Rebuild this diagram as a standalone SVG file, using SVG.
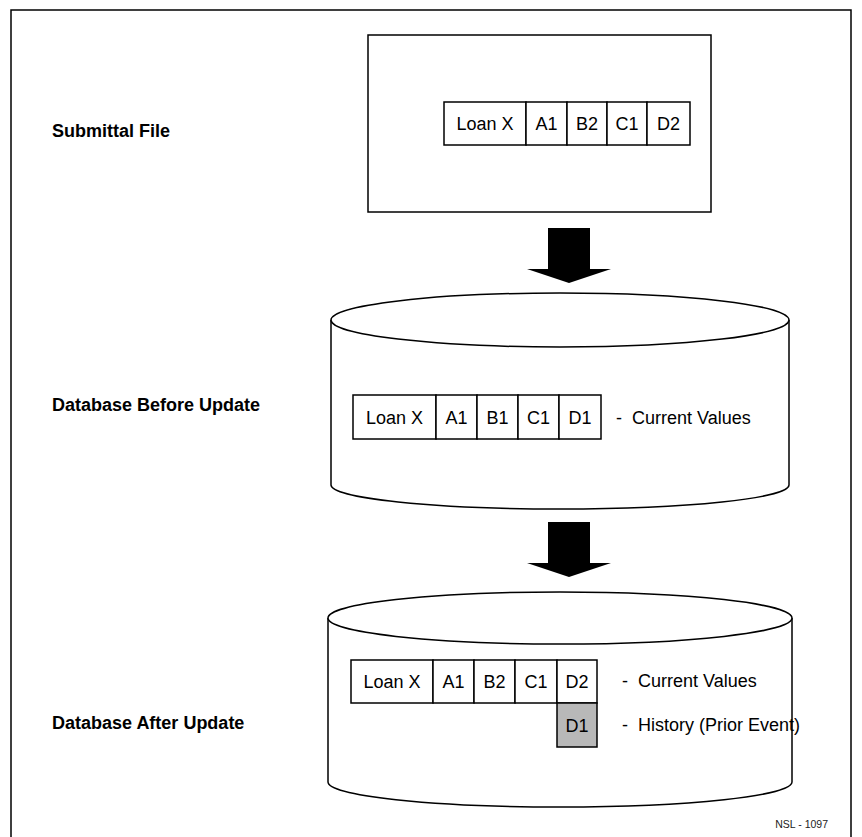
<svg xmlns="http://www.w3.org/2000/svg" width="862" height="837" viewBox="0 0 862 837">
<style>
  .ln { fill: none; stroke: #000; stroke-width: 1.5; }
  .cell { fill: #fff; stroke: #000; stroke-width: 1.5; }
  .hist { fill: #b8b8b8; stroke: #000; stroke-width: 1.5; }
  .cyl { fill: #fff; stroke: #000; stroke-width: 1.5; }
  .arrow { fill: #000; stroke: none; }
  .t { font-family: "Liberation Sans", Arial, sans-serif; font-size: 18px; fill: #000; }
  .c { text-anchor: middle; }
  .lbl { font-family: "Liberation Sans", Arial, sans-serif; font-size: 18px; font-weight: bold; fill: #000; }
  .note { font-family: "Liberation Sans", Arial, sans-serif; font-size: 10.5px; fill: #222; text-anchor: end; }
</style>
<rect x="0" y="0" width="862" height="837" fill="#fff"/>
<g id="frame">
  <path class="ln" d="M11,837 V10 H851 V837"/>
</g>
<g id="labels">
  <text class="lbl" x="52" y="137">Submittal File</text>
  <text class="lbl" x="52" y="411">Database Before Update</text>
  <text class="lbl" x="52" y="729">Database After Update</text>
</g>
<g id="submittal">
  <rect class="cell" x="368" y="35" width="343" height="177"/>
  <rect class="cell" x="444" y="102" width="82" height="43"/>
  <rect class="cell" x="526" y="102" width="41" height="43"/>
  <rect class="cell" x="567" y="102" width="40" height="43"/>
  <rect class="cell" x="607" y="102" width="40" height="43"/>
  <rect class="cell" x="647" y="102" width="43" height="43"/>
  <text class="t c" x="485" y="130">Loan X</text>
  <text class="t c" x="546.5" y="130">A1</text>
  <text class="t c" x="587" y="130">B2</text>
  <text class="t c" x="627" y="130">C1</text>
  <text class="t c" x="668.5" y="130">D2</text>
</g>
<g id="connectors">
  <polygon class="arrow" points="548,228 590,228 590,269 611,269 569,283 527,269 548,269"/>
  <polygon class="arrow" points="548,522 590,522 590,563 611,563 569,577 527,563 548,563"/>
</g>
<g id="db-before">
  <path class="cyl" d="M331,320 V485 A229,24 0 0 0 789,485 V320"/>
  <ellipse class="cyl" cx="560" cy="320" rx="229" ry="27"/>
  <rect class="cell" x="353" y="395" width="83" height="44"/>
  <rect class="cell" x="436" y="395" width="41" height="44"/>
  <rect class="cell" x="477" y="395" width="41" height="44"/>
  <rect class="cell" x="518" y="395" width="41" height="44"/>
  <rect class="cell" x="559" y="395" width="42" height="44"/>
  <text class="t c" x="394.5" y="423.5">Loan X</text>
  <text class="t c" x="456.5" y="423.5">A1</text>
  <text class="t c" x="497.5" y="423.5">B1</text>
  <text class="t c" x="538.5" y="423.5">C1</text>
  <text class="t c" x="580" y="423.5">D1</text>
  <text class="t" x="616" y="423.5" xml:space="preserve">-  Current Values</text>
</g>
<g id="db-after">
  <path class="cyl" d="M328,618 V782 A232,25 0 0 0 792,782 V618"/>
  <ellipse class="cyl" cx="560" cy="618" rx="232" ry="26"/>
  <rect class="cell" x="351" y="660" width="82" height="43"/>
  <rect class="cell" x="433" y="660" width="41" height="43"/>
  <rect class="cell" x="474" y="660" width="41" height="43"/>
  <rect class="cell" x="515" y="660" width="42" height="43"/>
  <rect class="cell" x="557" y="660" width="40" height="43"/>
  <rect class="hist" x="557" y="703" width="40" height="44"/>
  <text class="t c" x="392" y="688">Loan X</text>
  <text class="t c" x="453.5" y="688">A1</text>
  <text class="t c" x="494.5" y="688">B2</text>
  <text class="t c" x="536" y="688">C1</text>
  <text class="t c" x="577" y="688">D2</text>
  <text class="t c" x="577" y="731.5">D1</text>
  <text class="t" x="622" y="687" xml:space="preserve">-  Current Values</text>
  <text class="t" x="622" y="731" xml:space="preserve">-  History (Prior Event)</text>
</g>
<g id="ref">
  <text class="note" x="828" y="828">NSL - 1097</text>
</g>
</svg>
